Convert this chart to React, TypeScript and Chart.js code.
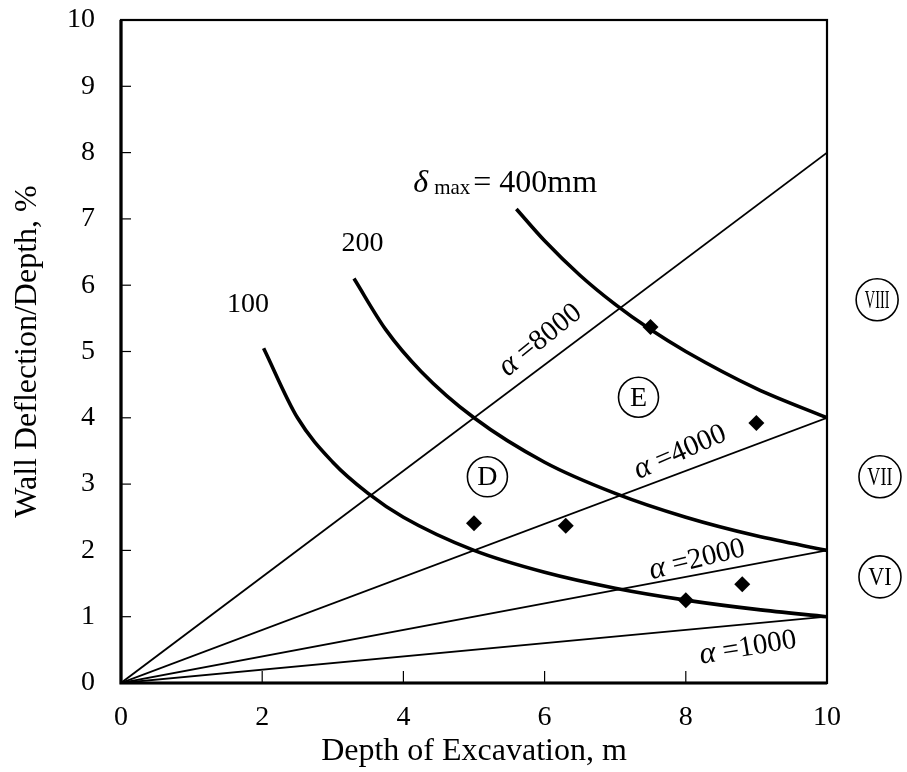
import React, { useEffect, useRef } from "react";
import { Chart, registerables } from "chart.js";

Chart.register(...registerables);

// ---- data ----
const xTickValues = [0, 2, 4, 6, 8, 10];
const yTickValues = [0, 1, 2, 3, 4, 5, 6, 7, 8, 9, 10];

// alpha lines: start at origin, end at depth 10 m
const alphaNames = ["8000", "4000", "2000", "1000"];
const alphaEndDepth = [10, 10, 10, 10];
const alphaEndRatio = [8, 4, 2, 1];

// delta_max curves
const curve100X = [2.02, 2.5, 3, 3.5, 4, 5, 6, 7, 8, 9, 10];
const curve100Y = [5.05, 4.0, 3.33, 2.86, 2.5, 2.0, 1.67, 1.43, 1.25, 1.11, 1.0];
const curve200X = [3.3, 3.75, 4.25, 5, 6, 7, 8, 9, 10];
const curve200Y = [6.1, 5.33, 4.7, 4.0, 3.33, 2.86, 2.5, 2.22, 2.0];
const curve400X = [5.6, 6, 6.5, 7, 7.5, 8, 9, 10];
const curve400Y = [7.15, 6.67, 6.15, 5.71, 5.33, 5.0, 4.44, 4.0];

// case histories (diamonds)
const caseDepth = [5.0, 6.3, 7.5, 9.0, 8.0, 8.8];
const caseRatio = [2.41, 2.37, 5.37, 3.92, 1.25, 1.49];

const SERIF = '"Liberation Serif", "Times New Roman", serif';

// annotation placements (data coordinates)
const alphaLabelPos = [
  { x: 5.94, y: 5.17, extra: -2 },
  { x: 7.92, y: 3.48, extra: -3 },
  { x: 8.16, y: 1.86, extra: -3 },
  { x: 8.88, y: 0.53, extra: -4 },
];
const curveLabels = [
  { text: "100", x: 1.8, y: 5.7 },
  { text: "200", x: 3.42, y: 6.62 },
];
const circleLetters = [
  { text: "E", x: 7.33, y: 4.31 },
  { text: "D", x: 5.19, y: 3.11 },
];
const romanLabels = [
  { text: "VIII", x: 10.71, y: 5.78 },
  { text: "VII", x: 10.75, y: 3.11 },
  { text: "VI", x: 10.75, y: 1.6 },
];

const annotationPlugin = {
  id: "annotations",
  afterDraw(chart: any) {
    const { ctx, chartArea: a } = chart;
    const xs = chart.scales.x;
    const ys = chart.scales.y;
    const px = (v: number) => xs.getPixelForValue(v);
    const py = (v: number) => ys.getPixelForValue(v);
    ctx.save();
    ctx.strokeStyle = "#000";
    ctx.fillStyle = "#000";

    // frame
    ctx.lineWidth = 2.2;
    ctx.strokeRect(a.left, a.top, a.right - a.left, a.bottom - a.top);
    ctx.lineWidth = 3.2;
    ctx.beginPath();
    ctx.moveTo(a.left, a.top);
    ctx.lineTo(a.left, a.bottom);
    ctx.lineTo(a.right, a.bottom);
    ctx.stroke();

    // inward ticks
    ctx.lineWidth = 1.2;
    yTickValues.forEach((v) => {
      if (v === 0 || v === 10) return;
      ctx.beginPath();
      ctx.moveTo(a.left, py(v));
      ctx.lineTo(a.left + 10, py(v));
      ctx.stroke();
    });
    xTickValues.forEach((v) => {
      if (v === 0 || v === 10) return;
      ctx.beginPath();
      ctx.moveTo(px(v), a.bottom);
      ctx.lineTo(px(v), a.bottom - 12);
      ctx.stroke();
    });

    // alpha labels
    alphaNames.forEach((name, i) => {
      const pos = alphaLabelPos[i];
      const ang = Math.atan2(
        py(alphaEndRatio[i]) - py(0),
        px(alphaEndDepth[i]) - px(0)
      ) + (pos.extra * Math.PI) / 180;
      ctx.save();
      ctx.translate(px(pos.x), py(pos.y));
      ctx.rotate(ang);
      ctx.textBaseline = "middle";
      ctx.textAlign = "left";
      ctx.font = `italic 31px ${SERIF}`;
      const wA = ctx.measureText("\u03B1").width;
      ctx.font = `29px ${SERIF}`;
      const rest = " =" + name;
      const wB = ctx.measureText(rest).width;
      const start = -(wA + wB) / 2;
      ctx.font = `italic 31px ${SERIF}`;
      ctx.fillText("\u03B1", start, 0);
      ctx.font = `29px ${SERIF}`;
      ctx.fillText(rest, start + wA, 0);
      ctx.restore();
    });

    // delta max label
    {
      let cx = px(4.14);
      const base = py(7.56) + 10;
      ctx.textAlign = "left";
      ctx.textBaseline = "alphabetic";
      ctx.font = `italic 32px ${SERIF}`;
      ctx.fillText("\u03B4", cx, base);
      cx += ctx.measureText("\u03B4").width + 6;
      ctx.font = `21px ${SERIF}`;
      ctx.fillText("max", cx, base + 2);
      cx += ctx.measureText("max").width + 3;
      ctx.font = `32px ${SERIF}`;
      ctx.fillText("= 400mm", cx, base);
    }

    // 100 / 200 labels
    ctx.textAlign = "center";
    ctx.textBaseline = "middle";
    ctx.font = `28px ${SERIF}`;
    curveLabels.forEach((l) => ctx.fillText(l.text, px(l.x), py(l.y)));

    // circled letters
    ctx.lineWidth = 1.6;
    circleLetters.forEach((l) => {
      const cx = px(l.x), cy = py(l.y);
      ctx.beginPath();
      ctx.arc(cx, cy, 20, 0, Math.PI * 2);
      ctx.stroke();
      ctx.font = `28px ${SERIF}`;
      ctx.fillText(l.text, cx, cy + 1);
    });

    // roman numerals (outside plot)
    romanLabels.forEach((l) => {
      const cx = px(l.x), cy = py(l.y);
      ctx.beginPath();
      ctx.arc(cx, cy, 21, 0, Math.PI * 2);
      ctx.stroke();
      ctx.save();
      ctx.translate(cx, cy + 1);
      const sx = l.text.length > 3 ? 0.55 : l.text.length > 2 ? 0.7 : 0.85;
      ctx.scale(sx, 1);
      ctx.font = `26px ${SERIF}`;
      ctx.fillText(l.text, 0, 0);
      ctx.restore();
    });

    ctx.restore();
  },
};

const toPoints = (xs: number[], ys: number[]) =>
  xs.map((x, i) => ({ x, y: ys[i] }));

export default function App() {
  const canvasRef = useRef<HTMLCanvasElement | null>(null);

  useEffect(() => {
    const canvas = canvasRef.current;
    if (!canvas) return;

    const alphaSets = alphaNames.map((name, i) => ({
      label: "alpha=" + name,
      data: [
        { x: 0, y: 0 },
        { x: alphaEndDepth[i], y: alphaEndRatio[i] },
      ],
      borderColor: "#000",
      borderWidth: 1.8,
      pointRadius: 0,
      fill: false,
    }));

    const curveStyle = {
      borderColor: "#000",
      borderWidth: 3.6,
      pointRadius: 0,
      fill: false,
      cubicInterpolationMode: "monotone" as const,
    };

    const chart = new Chart(canvas, {
      type: "line",
      data: {
        datasets: [
          ...alphaSets,
          { label: "100mm", data: toPoints(curve100X, curve100Y), ...curveStyle },
          { label: "200mm", data: toPoints(curve200X, curve200Y), ...curveStyle },
          { label: "400mm", data: toPoints(curve400X, curve400Y), ...curveStyle },
          {
            label: "cases",
            data: toPoints(caseDepth, caseRatio),
            showLine: false,
            pointStyle: "rectRot",
            pointRadius: 8,
            pointBackgroundColor: "#000",
            pointBorderColor: "#000",
            pointBorderWidth: 0,
            borderColor: "#000",
            backgroundColor: "#000",
          } as any,
        ],
      },
      options: {
        animation: false,
        responsive: false,
        devicePixelRatio: 1,
        events: [],
        layout: { padding: { left: 0, top: 20, right: 80, bottom: 0 } },
        plugins: {
          legend: { display: false },
          tooltip: { enabled: false },
        },
        scales: {
          x: {
            type: "linear",
            min: 0,
            max: 10,
            afterBuildTicks: (s: any) => {
              s.ticks = xTickValues.map((v) => ({ value: v }));
            },
            ticks: {
              color: "#000",
              font: { family: SERIF, size: 28 },
              padding: 18,
              maxRotation: 0,
            },
            grid: { display: false, drawTicks: false },
            border: { display: false },
            title: {
              display: true,
              text: "Depth of Excavation, m",
              color: "#000",
              font: { family: SERIF, size: 32 },
              padding: { top: 0, bottom: 1 },
            },
            afterFit: (s: any) => {
              s.height = 89;
              s.paddingLeft = 0;
              s.paddingRight = 0;
            },
          },
          y: {
            type: "linear",
            min: 0,
            max: 10,
            afterBuildTicks: (s: any) => {
              s.ticks = yTickValues.map((v) => ({ value: v }));
            },
            ticks: {
              color: "#000",
              font: { family: SERIF, size: 28 },
              padding: 26,
            },
            grid: { display: false, drawTicks: false },
            border: { display: false },
            title: {
              display: true,
              text: "Wall Deflection/Depth, %",
              color: "#000",
              font: { family: SERIF, size: 32 },
              padding: { top: 8, bottom: 0 },
            },
            afterFit: (s: any) => {
              s.width = 121;
              s.paddingTop = 0;
              s.paddingBottom = 0;
            },
          },
        },
      } as any,
      plugins: [annotationPlugin],
    });

    return () => chart.destroy();
  }, []);

  return (
    <div
      style={{
        position: "fixed",
        left: 0,
        top: 0,
        width: 907,
        height: 772,
        background: "#fff",
      }}
    >
      <canvas ref={canvasRef} width={907} height={772} style={{ display: "block" }} />
    </div>
  );
}
